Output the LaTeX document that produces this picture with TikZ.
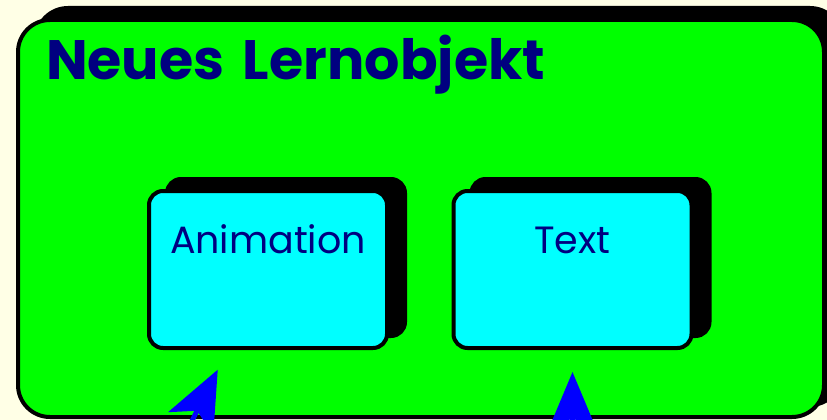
\documentclass[tikz,border=0pt]{standalone}
\usepackage{fontspec}
\setmainfont{Poppins}
\usetikzlibrary{arrows.meta,shadows}
\definecolor{paper}{RGB}{255,255,230}
\definecolor{navy}{RGB}{0,0,128}
\definecolor{boxgreen}{RGB}{0,255,0}
\definecolor{boxcyan}{RGB}{0,255,255}
\definecolor{linkblue}{RGB}{0,0,255}

\begin{document}
\begin{tikzpicture}[x=1pt,y=-1pt,
	boxshadow/.style={drop shadow={shadow xshift=18pt,shadow yshift=12pt,fill=black,draw=black,line width=4pt,opacity=1}},
	bigbox/.style={draw=black,line width=4pt,fill=boxgreen,rounded corners=32pt,boxshadow,
		inner xsep=28pt,inner ysep=0pt,align=left,text=navy,font=\fontsize{55.5}{60}\selectfont\bfseries},
	smallbox/.style={draw=black,line width=4pt,fill=boxcyan,rounded corners=14pt,boxshadow,
		inner sep=0pt,text width=238pt,text height=62pt,text depth=95pt,align=center,
		text=navy,font=\fontsize{38}{44}\selectfont},
	flow/.style={draw=linkblue,line width=5pt,-{Stealth[length=60pt,width=50pt,inset=14pt]},shorten >=22pt}]
	\fill[paper] (0,0) rectangle (827,420);
	\useasboundingbox (0,0) rectangle (827,420);
	\clip (0,0) rectangle (827,420);
	% outer learning object
	\node[bigbox,text width=750pt,text height=60pt,text depth=337pt] (lernobjekt) at (421,218.5) {Neues Lernobjekt};
	% parts
	\node[smallbox] (animation) at (268,269.5) {Animation};
	\node[smallbox] (text) at (572.5,269.5) {Text};
	% incoming links from below
	\coordinate (animsrc) at (127,550);
	\coordinate (textsrc) at (572.5,560);
	\draw[flow] (animsrc) -- (animation);
	\draw[flow] (textsrc) -- (text);
\end{tikzpicture}
\end{document}
